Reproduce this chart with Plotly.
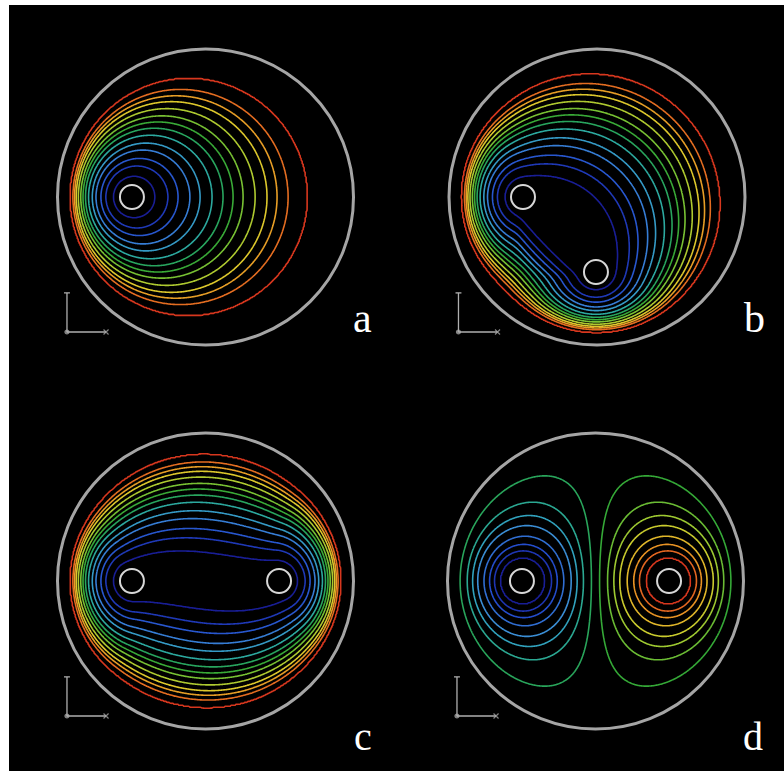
import numpy as np
import plotly.graph_objects as go
from math import comb

FIG_W, FIG_H = 784, 771
WALL_PX = 148.0          # wall radius in page pixels
BOX_PX = 180.0           # half size of each panel box in pixels

# ---- panel layout -------------------------------------------------------
panel_labels = ["a", "b", "c", "d"]
panel_cx = [205.5, 597.0, 205.5, 595.5]   # wall centres, page pixels
panel_cy = [197.0, 197.0, 581.0, 581.0]
label_dy = [121.0, 121.0, 155.0, 155.0]   # letter offset below the centre
label_size = [42, 42, 40, 40]

# ---- electrode geometry (wall radius = 1, y up) -------------------------
electrodes_a = [(-0.497, 0.0)]
electrodes_b = [(-0.500, 0.0), (-0.007, -0.507)]
electrodes_c = [(-0.497, 0.0), (0.497, 0.0)]
electrodes_d = [(-0.497, 0.0), (0.497, 0.0)]
# control points of the connection between the electrodes
bend_b = [(-0.034, -0.034)]
bend_c = [(-0.166, 0.08), (0.166, -0.08)]
chord_weight_b = 1.28          # weight of the straight b connection
smooth_b = 4.0                 # smoothing of the b field, grid cells
electrode_radius = 0.081
field_radius = 0.94            # radius where the field reaches its wall value

# ---- contour levels -----------------------------------------------------
levels_abc = [0.205, 0.302, 0.370, 0.443, 0.500, 0.562, 0.614, 0.658,
              0.699, 0.745, 0.787, 0.820, 0.854, 0.908]
levels_d = [-1.29, -1.04, -0.86, -0.68, -0.50, -0.37, -0.24, -0.08,
            0.08, 0.24, 0.37, 0.50, 0.68, 0.86, 1.04, 1.29]

line_scale = [
    [0.00, "rgb(25,30,150)"],
    [0.13, "rgb(35,75,205)"],
    [0.26, "rgb(60,140,215)"],
    [0.36, "rgb(45,170,180)"],
    [0.46, "rgb(40,165,95)"],
    [0.53, "rgb(50,168,55)"],
    [0.64, "rgb(140,200,50)"],
    [0.76, "rgb(220,205,45)"],
    [0.88, "rgb(235,140,35)"],
    [1.00, "rgb(215,55,30)"],
]

grid = np.linspace(-1.0, 1.0, 301)
GX, GY = np.meshgrid(grid, grid)
GZ = GX + 1j * GY
GR = np.abs(GZ)


def disk_modulus(w):
    """|R(z-w)| / |R^2 - z conj(w)| : 0 at the source, 1 on the field wall."""
    R = field_radius
    return np.abs(R * (GZ - w)) / np.abs(R * R - GZ * np.conj(w))


def path_points(pts, bend=None, n=121):
    """Bezier curve from the first to the last electrode through the bend controls."""
    if len(pts) == 1:
        return [complex(*pts[0])]
    ctrl = [complex(*pts[0])] + [complex(*c) for c in (bend or [])] + [complex(*pts[-1])]
    deg = len(ctrl) - 1
    t = np.linspace(0.0, 1.0, n)
    curve = sum(comb(deg, j) * (1 - t) ** (deg - j) * t ** j * ctrl[j]
                for j in range(deg + 1))
    return list(curve)


def source_field(pts, bend=None):
    u = np.full(GZ.shape, np.inf)
    for w in path_points(pts, bend):
        u = np.minimum(u, disk_modulus(w))
    return u


def gaussian_smooth(f, sigma):
    r = int(3 * sigma)
    k = np.exp(-0.5 * (np.arange(-r, r + 1) / sigma) ** 2)
    k /= k.sum()
    fp = np.pad(f, r, mode="edge")
    tmp = np.apply_along_axis(lambda m: np.convolve(m, k, mode="valid"), 1, fp)
    return np.apply_along_axis(lambda m: np.convolve(m, k, mode="valid"), 0, tmp)


def to_index(field, levels, lo, hi):
    n = len(levels)
    xp = [lo] + list(levels) + [hi]
    fp = [-1.0] + list(range(n)) + [float(n)]
    t = np.interp(np.clip(field, lo, hi), xp, fp)
    t[GR > field_radius * 0.999] = np.nan
    return t.astype(np.float32)


field_a = source_field(electrodes_a)
field_b = gaussian_smooth(
    np.minimum(source_field(electrodes_b, bend_b),
               chord_weight_b * source_field(electrodes_b)), smooth_b)
field_c = source_field(electrodes_c, bend_c)
uL = disk_modulus(complex(*electrodes_d[0]))
uR = disk_modulus(complex(*electrodes_d[1]))
field_d = np.log(np.maximum(uL, 1e-9)) - np.log(np.maximum(uR, 1e-9))

panel_fields = [
    (to_index(field_a, levels_abc, 0.0, 5.0), len(levels_abc)),
    (to_index(field_b, levels_abc, 0.0, 5.0), len(levels_abc)),
    (to_index(field_c, levels_abc, 0.0, 5.0), len(levels_abc)),
    (to_index(field_d, levels_d, -8.0, 8.0), len(levels_d)),
]
panel_electrodes = [electrodes_a, electrodes_b, electrodes_c, electrodes_d]

fig = go.Figure()
shapes = [dict(type="rect", xref="paper", yref="paper",
               x0=9 / FIG_W, x1=1.0, y0=0.0, y1=1 - 5 / FIG_H,
               fillcolor="black", line=dict(width=0), layer="below")]
annotations = []
layout_axes = {}
span = BOX_PX / WALL_PX

for i, name in enumerate(panel_labels):
    k = "" if i == 0 else str(i + 1)
    cx, cy = panel_cx[i], panel_cy[i]
    layout_axes["xaxis" + k] = dict(
        domain=[(cx - BOX_PX) / FIG_W, (cx + BOX_PX) / FIG_W],
        range=[-span, span], visible=False, fixedrange=True,
        anchor="y" + k)
    layout_axes["yaxis" + k] = dict(
        domain=[1 - (cy + BOX_PX) / FIG_H, 1 - (cy - BOX_PX) / FIG_H],
        range=[-span, span], visible=False, fixedrange=True,
        anchor="x" + k)

    tfield, nlev = panel_fields[i]
    fig.add_trace(go.Contour(
        x=grid, y=grid, z=tfield, xaxis="x" + k, yaxis="y" + k,
        zmin=0, zmax=nlev - 1, colorscale=line_scale, showscale=False,
        contours=dict(start=0, end=nlev - 1, size=1, coloring="lines"),
        line=dict(width=1.6, smoothing=0.6), hoverinfo="skip"))

    xr, yr = "x" + k, "y" + k
    # outer wall
    shapes.append(dict(type="circle", xref=xr, yref=yr, x0=-1, y0=-1, x1=1, y1=1,
                       line=dict(color="rgb(165,165,165)", width=3)))
    # electrodes
    for ex, ey in panel_electrodes[i]:
        shapes.append(dict(type="circle", xref=xr, yref=yr,
                           x0=ex - electrode_radius, x1=ex + electrode_radius,
                           y0=ey - electrode_radius, y1=ey + electrode_radius,
                           line=dict(color="rgb(215,215,215)", width=2)))
    # small axis triad
    ox, oy, ln = -0.936, -0.912, 0.264
    tri = dict(color="rgb(175,175,175)", width=1.3)
    shapes.append(dict(type="line", xref=xr, yref=yr, x0=ox, y0=oy, x1=ox, y1=oy + ln, line=tri))
    shapes.append(dict(type="line", xref=xr, yref=yr, x0=ox, y0=oy, x1=ox + ln, y1=oy, line=tri))
    shapes.append(dict(type="line", xref=xr, yref=yr, x0=ox - 0.02, y0=oy + ln, x1=ox + 0.02, y1=oy + ln, line=tri))
    fig.add_trace(go.Scatter(
        x=[ox, ox + ln], y=[oy, oy], xaxis=xr, yaxis=yr, mode="markers",
        marker=dict(symbol=["circle", "x-thin"], size=[4, 5], color="rgb(190,190,190)",
                    line=dict(color="rgb(190,190,190)", width=1.2)),
        hoverinfo="skip", showlegend=False))

    # panel letter
    annotations.append(dict(
        text=name, xref="paper", yref="paper",
        x=(cx + 157) / FIG_W, y=1 - (cy + label_dy[i]) / FIG_H,
        xanchor="center", yanchor="middle", showarrow=False,
        font=dict(family="Liberation Serif", size=label_size[i], color="white")))

fig.update_layout(
    width=FIG_W, height=FIG_H, margin=dict(l=0, r=0, t=0, b=0),
    paper_bgcolor="white", plot_bgcolor="rgba(0,0,0,0)",
    showlegend=False, shapes=shapes, annotations=annotations,
    **layout_axes)

fig.write_html("out.html")
